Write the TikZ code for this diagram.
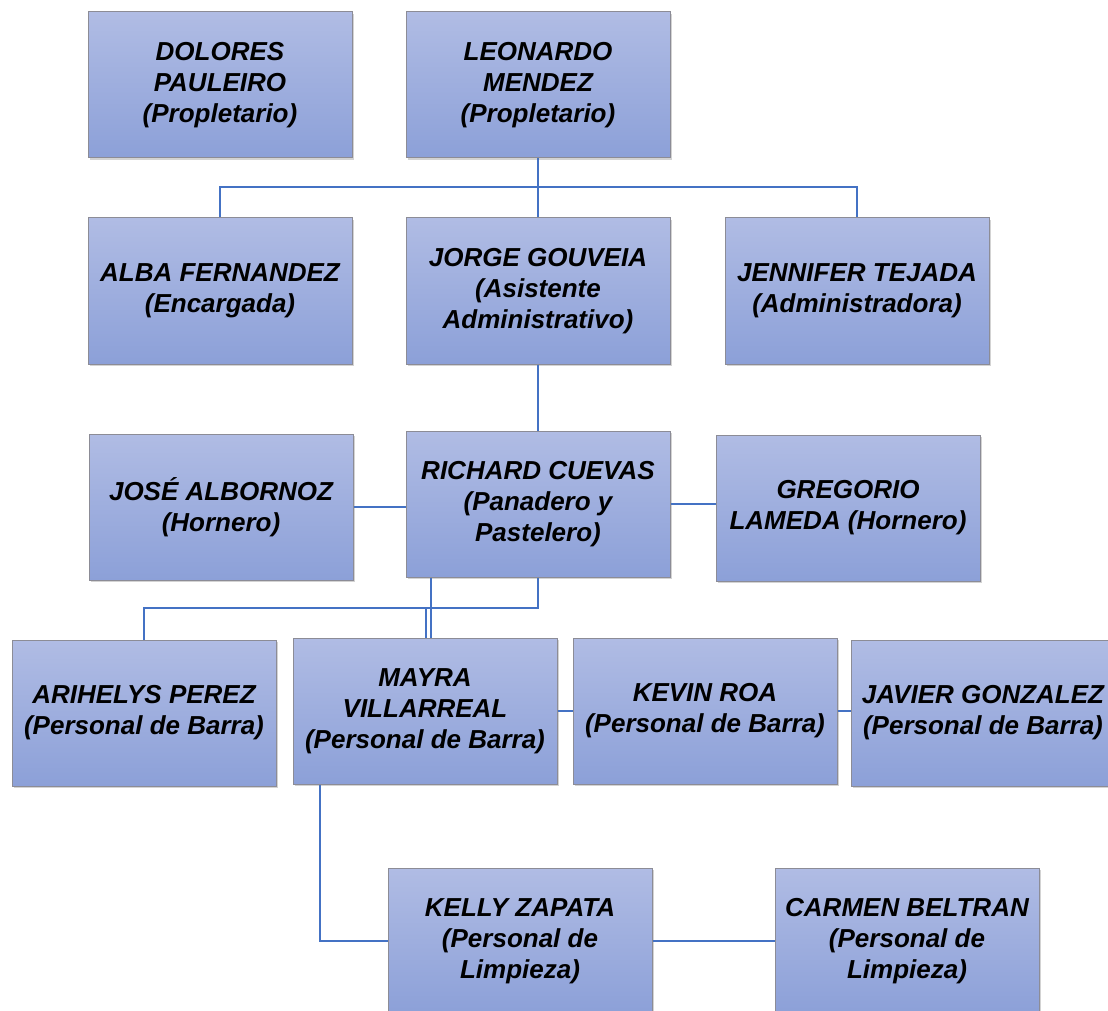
\documentclass[tikz,border=0pt]{standalone}
\usepackage{fontspec}
\setmainfont{Liberation Sans}
\usetikzlibrary{shadows,calc}
\definecolor{boxtop}{RGB}{176,188,228}
\definecolor{boxbot}{RGB}{140,160,216}
\definecolor{boxline}{RGB}{140,140,150}
\definecolor{conn}{RGB}{68,114,196}
\begin{document}
\begin{tikzpicture}[x=1pt,y=1pt,
  person/.style={draw=boxline, line width=1pt, top color=boxtop, bottom color=boxbot,
    minimum width=264pt, minimum height=146pt, inner sep=0pt, align=center,
    font=\fontsize{26}{31}\selectfont\bfseries\itshape,
    drop shadow={opacity=0.35, shadow xshift=2pt, shadow yshift=-2pt}},
  link/.style={draw=conn, line width=2.7pt}]
\useasboundingbox (0,0) rectangle (1108,-1011);
\clip (0,0) rectangle (1108,-1011);
\node[person] (dol) at (220,-85) {DOLORES\\PAULEIRO\\(Propletario)};
\node[person] (leo) at (538,-85) {LEONARDO\\MENDEZ\\(Propletario)};
\node[person] (alba) at (220,-291) {ALBA FERNANDEZ\\(Encargada)};
\node[person] (jorge) at (538,-291) {JORGE GOUVEIA\\(Asistente\\Administrativo)};
\node[person] (jen) at (857,-291) {JENNIFER TEJADA\\(Administradora)};
\node[person] (jose) at (221,-507) {JOSÉ ALBORNOZ\\(Hornero)};
\node[person] (rich) at (538,-504) {RICHARD CUEVAS\\(Panadero y\\Pastelero)};
\node[person] (greg) at (848,-508) {GREGORIO\\LAMEDA (Hornero)};
\node[person] (ari) at (144,-713) {ARIHELYS PEREZ\\(Personal de Barra)};
\node[person] (mayra) at (425,-711) {MAYRA\\VILLARREAL\\(Personal de Barra)};
\node[person] (kevin) at (705,-711) {KEVIN ROA\\(Personal de Barra)};
\node[person] (javier) at (983,-713) {JAVIER GONZALEZ\\(Personal de Barra)};
\node[person] (kelly) at (520,-941) {KELLY ZAPATA\\(Personal de\\Limpieza)};
\node[person] (carmen) at (907,-941) {CARMEN BELTRAN\\(Personal de\\Limpieza)};
\coordinate (b1) at (538,-187);
\coordinate (b2) at (538,-608);
\draw[link] (leo.south) -- (jorge.north);
\draw[link] (alba.north) |- (b1) -| (jen.north);
\draw[link] (jorge.south) -- (rich.north);
\draw[link] (jose.east) -- (jose.east -| rich.west);
\draw[link] (rich.east) -- (rich.east -| greg.west);
\draw[link] (rich.south) -- (b2) -| (ari.north);
\draw[link] (b2) -| ([xshift=1pt]mayra.north);
\draw[link] ([xshift=-107pt]rich.south) -- ([xshift=-107pt]rich.south |- mayra.north);
\draw[link] (mayra.east) -- (kevin.west);
\draw[link] (kevin.east) -- (kevin.east -| javier.west);
\draw[link] ([xshift=-105pt]mayra.south) |- (kelly.west);
\draw[link] (kelly.east) -- (carmen.west);
\end{tikzpicture}
\end{document}
